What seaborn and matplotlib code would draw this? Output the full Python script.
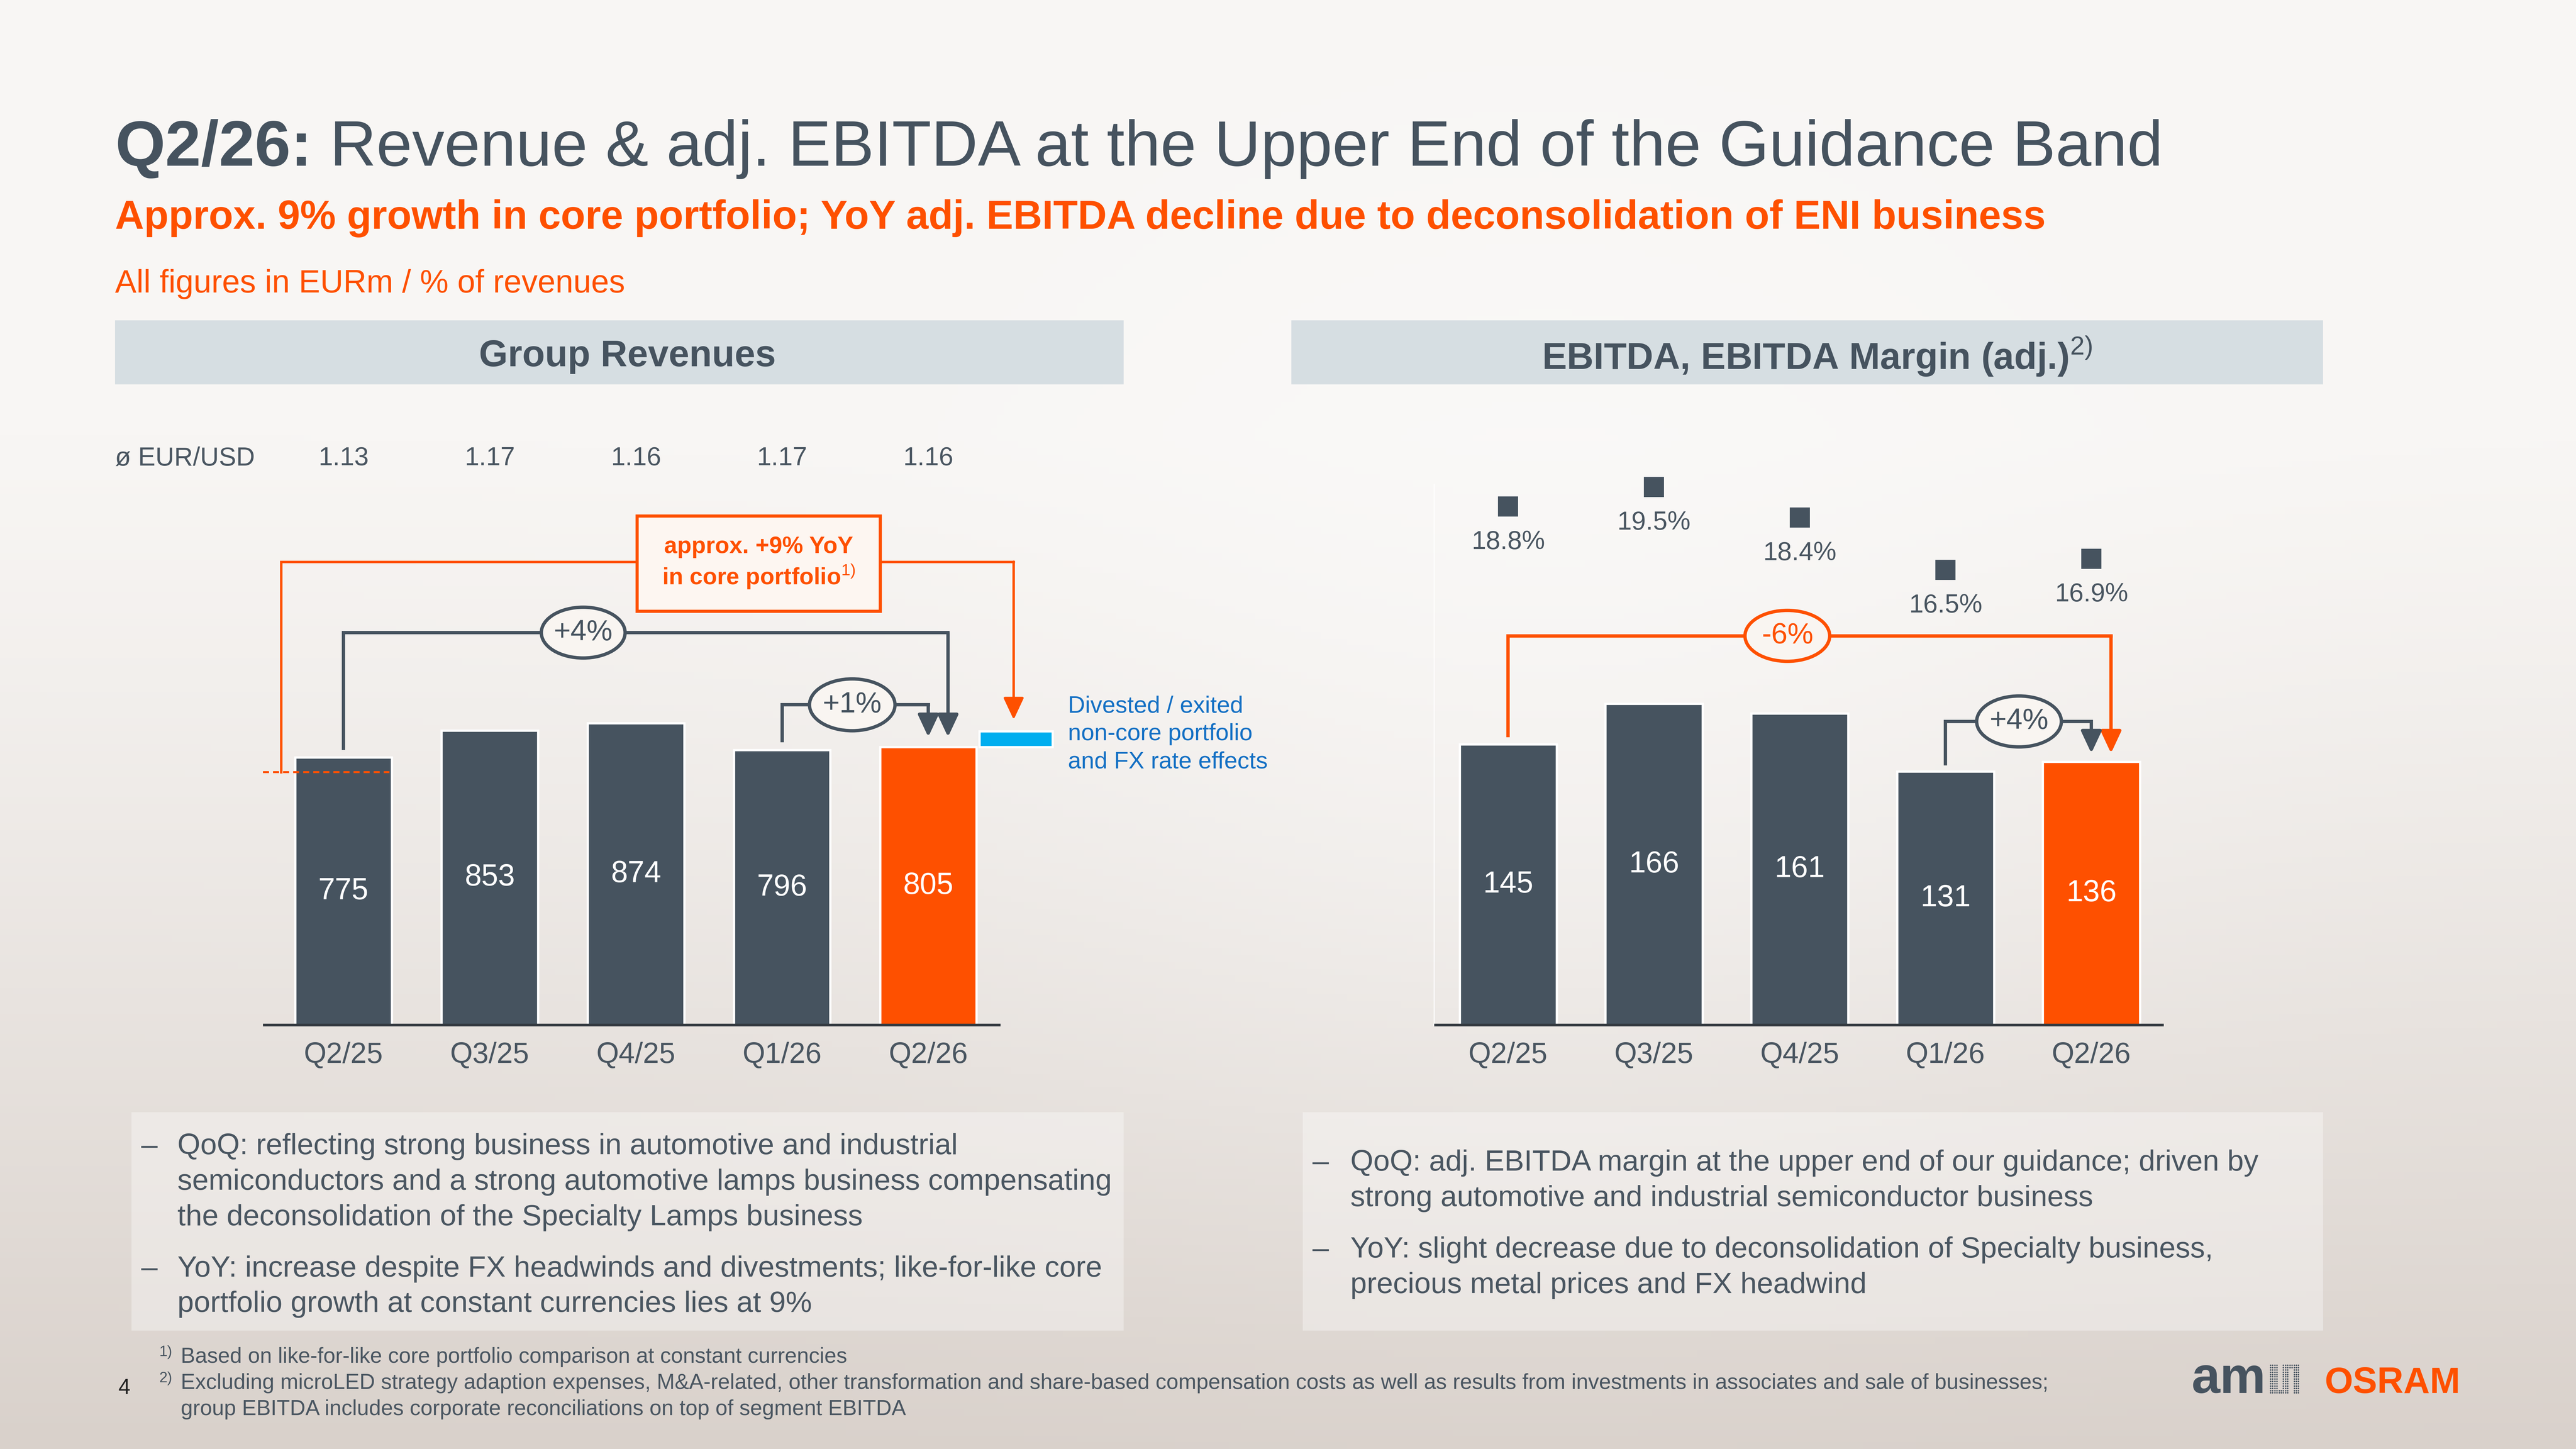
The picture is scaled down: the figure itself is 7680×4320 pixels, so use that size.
import numpy as np
import pandas as pd
import seaborn as sns
from matplotlib import pyplot as plt
from matplotlib.patches import Rectangle, Ellipse
import matplotlib.transforms as mtransforms

# ---- data ----
quarters = ["Q2/25", "Q3/25", "Q4/25", "Q1/26", "Q2/26"]
revenues = [775, 853, 874, 796, 805]
ebitda = [145, 166, 161, 131, 136]
margins = [18.8, 19.5, 18.4, 16.5, 16.9]
eur_usd = ["1.13", "1.17", "1.16", "1.17", "1.16"]
divested = 46        # divested / exited non-core portfolio and FX (blue block)
core_base = 732      # dashed orange reference level on Q2/25

left_bullets = [
    ["QoQ: reflecting strong business in automotive and industrial",
     "semiconductors and a strong automotive lamps business compensating",
     "the deconsolidation of the Specialty Lamps business"],
    ["YoY: increase despite FX headwinds and divestments; like-for-like core",
     "portfolio growth at constant currencies lies at 9%"],
]
right_bullets = [
    ["QoQ: adj. EBITDA margin at the upper end of our guidance; driven by",
     "strong automotive and industrial semiconductor business"],
    ["YoY: slight decrease due to deconsolidation of Specialty business,",
     "precious metal prices and FX headwind"],
]
footnotes = [
    ("1)", "Based on like-for-like core portfolio comparison at constant currencies"),
    ("2)", "Excluding microLED strategy adaption expenses, M&A-related, other transformation and share-based compensation costs as well as results from investments in associates and sale of businesses;"),
    ("", "group EBITDA includes corporate reconciliations on top of segment EBITDA"),
]

GRAY = "#46535f"
TXT = "#4a5661"
ORANGE = "#fe5000"
BLUE_BAR = "#00aeef"
BLUE_TXT = "#1470c4"
HEAD = "#d6dee2"
BUBBLE = "#f9f5f1"

sns.set_theme(style="white")
plt.rcParams['font.family'] = ['Liberation Sans', 'DejaVu Sans']
plt.rcParams['mathtext.fontset'] = 'custom'
plt.rcParams['mathtext.rm'] = 'Liberation Sans'
plt.rcParams['mathtext.bf'] = 'Liberation Sans:bold'

W, H = 1568, 882
fig = plt.figure(figsize=(16, 9), dpi=480)


def rect(x0, y0, x1, y1):
    return [x0 / W, 1 - y1 / H, (x1 - x0) / W, (y1 - y0) / H]


# background gradient, all layout text lives here (pixel coords of a 1568x882 slide)
bg = fig.add_axes([0, 0, 1, 1])
yy, xx = np.mgrid[0:1:220j, 0:1:390j]
top = np.array([248, 246, 244]) / 255
bot = np.array([217, 209, 203]) / 255
t = np.clip((yy - 0.3) / 0.7, 0, 1) ** 1.2
img = top + (bot - top) * t[..., None]
glow = np.exp(-(((xx - 0.6) / 0.22) ** 2 + ((yy - 0.45) / 0.35) ** 2))
img = img + (1 - img) * 0.35 * glow[..., None]
bg.imshow(img, extent=[0, W, H, 0], aspect='auto', zorder=0)
bg.set_xlim(0, W)
bg.set_ylim(H, 0)
bg.axis('off')

# title lines
t1 = bg.text(70, 109, "Q2/26:", fontsize=28.8, fontweight='bold', color=GRAY, va='bottom')
bg.annotate(" Revenue & adj. EBITDA at the Upper End of the Guidance Band", xy=(1, 0),
            xycoords=t1, fontsize=28.8, color=GRAY, va='bottom', ha='left')
bg.text(70, 133, "Approx. 9% growth in core portfolio; YoY adj. EBITDA decline due to deconsolidation of ENI business",
        fontsize=17.95, fontweight='bold', color=ORANGE, va='center')
bg.text(70, 173, "All figures in EURm / % of revenues", fontsize=14.35, color=ORANGE, va='center')

# section headers
bg.add_patch(Rectangle((70, 195), 614, 39, facecolor=HEAD, edgecolor='none'))
bg.add_patch(Rectangle((786, 195), 628, 39, facecolor=HEAD, edgecolor='none'))
bg.text(382, 217, "Group Revenues", fontsize=16.6, fontweight='bold', color=GRAY, ha='center', va='center')
bg.text(1106, 217, r"EBITDA, EBITDA Margin (adj.)$^{2)}$", fontsize=16.6, fontweight='bold',
        color=GRAY, ha='center', va='center')

# commentary boxes
bg.add_patch(Rectangle((80, 677), 604, 133, facecolor='white', alpha=0.35, edgecolor='none'))
bg.add_patch(Rectangle((793, 677), 621, 133, facecolor='white', alpha=0.35, edgecolor='none'))


def bullets(paras, x_dash, x_text, y0):
    y = y0
    for para in paras:
        bg.text(x_dash, y, "–", fontsize=13.2, color=TXT, va='center')
        for line in para:
            bg.text(x_text, y, line, fontsize=13.2, color=TXT, va='center')
            y += 21.6
        y += 9.6


bullets(left_bullets, 86, 108, 698)
bullets(right_bullets, 799, 822, 708)

# footnotes and page number
for k, (sup, note) in enumerate(footnotes):
    y = 826 + 16 * k
    if sup:
        bg.text(97, y - 3, sup, fontsize=6.6, color=TXT, va='center')
    bg.text(110, y, note, fontsize=9.65, color=TXT, va='center')
bg.text(72, 845, "4", fontsize=9.6, color='#222222', va='center')

# logo
bg.text(1334, 848, "am", fontsize=23, fontweight='bold', color=GRAY, va='baseline')
dx, dy = [], []
for c in range(14):
    for r in range(13):
        full = c <= 3 or 6 <= c <= 8 or c >= 11
        if full or (4 <= c <= 5 and r >= 11) or (9 <= c <= 10 and r <= 1):
            dx.append(1382 + c * 1.31)
            dy.append(831 + r * 1.4)
bg.scatter(dx, dy, s=0.45, color=GRAY, linewidths=0)
bg.text(1415, 848, "OSRAM", fontsize=16.3, fontweight='bold', color=ORANGE, va='baseline')


def bracket(ax, x0, y0, x1, level, tip, color, label, lx, ew, eh, lw=1.5, fs=13):
    ax.plot([x0, x0, x1], [y0, level, level], color=color, lw=lw, solid_capstyle='projecting',
            solid_joinstyle='miter', zorder=3)
    ax.annotate("", xy=(x1, tip), xytext=(x1, level),
                arrowprops=dict(arrowstyle="-|>,head_length=0.6,head_width=0.28", color=color, lw=lw,
                                shrinkA=0, shrinkB=0, mutation_scale=14), zorder=3)
    ax.add_patch(Ellipse((lx, level), ew, eh, facecolor=BUBBLE, edgecolor=color, lw=lw, zorder=4))
    ax.text(lx, level, label, ha='center', va='center', color=color, fontsize=fs, zorder=5)


def style_axis(ax):
    ax.set_facecolor('none')
    ax.set_xlabel('')
    ax.set_ylabel('')
    ax.set_yticks([])
    for s in ax.spines.values():
        s.set_visible(False)
    ax.tick_params(axis='x', length=0, pad=7.5, labelsize=13, labelcolor=TXT)
    ax.grid(False)


bar_colors = [GRAY] * 4 + [ORANGE]

# ---- Group revenues ----
axL = fig.add_axes(rect(160, 290, 660, 624))
df_rev = pd.DataFrame({"quarter": quarters, "revenue": revenues})
sns.barplot(data=df_rev, x="quarter", y="revenue", hue="quarter", palette=bar_colors,
            legend=False, width=0.66, saturation=1, ax=axL)
for cont in axL.containers:
    axL.bar_label(cont, label_type='center', color='white', fontsize=13.5)
axL.bar(4.6, divested, bottom=revenues[-1], width=0.5, color=BLUE_BAR)
axL.set_xlim(-0.551, 5.067)
axL.set_ylim(0, 1588)
style_axis(axL)
axL.hlines(0, -0.551, 4.494, color='#33393f', lw=1.2, zorder=5, clip_on=False)

trans = mtransforms.blended_transform_factory(axL.transData, fig.transFigure)
for i, fx in enumerate(eur_usd):
    axL.text(i, 1 - 279 / H, fx, transform=trans, ha='center', va='center', fontsize=11.6, color=TXT)
bg.text(70, 279, "ø EUR/USD", fontsize=11.6, color=TXT, va='center')

bracket(axL, 0, revenues[0] + 26, 4.135, 1136, revenues[-1] + 29, GRAY, "+4%", 1.64, 0.573, 147)
bracket(axL, 3, revenues[3] + 27, 4.0, 927, revenues[-1] + 29, GRAY, "+1%", 3.48, 0.585, 150)

# core portfolio bracket
axL.plot([-0.427, -0.427, 4.584], [core_base, 1341, 1341], color=ORANGE, lw=1.1,
         solid_joinstyle='miter', solid_capstyle='projecting', zorder=3)
axL.annotate("", xy=(4.584, revenues[-1] + divested + 33), xytext=(4.584, 1341),
             arrowprops=dict(arrowstyle="-|>,head_length=0.6,head_width=0.28", color=ORANGE, lw=1.1,
                             shrinkA=0, shrinkB=0, mutation_scale=14), zorder=3)
axL.hlines(core_base, -0.551, 0.315, color=ORANGE, lw=0.9, linestyles=(0, (3, 2)), zorder=4)
axL.add_patch(Rectangle((2.84 - 0.8315, 1198), 1.663, 276, facecolor='#fdf6f1', edgecolor=ORANGE,
                        lw=1.4, zorder=4))
axL.text(2.84, 1384, "approx. +9% YoY", ha='center', va='center', color=ORANGE, fontsize=10.5,
         fontweight='bold', zorder=5)
axL.text(2.84, 1298, r"in core portfolio$^{1)}$", ha='center', va='center', color=ORANGE,
         fontsize=10.5, fontweight='bold', zorder=5)
bg.text(650, 447, "Divested / exited\nnon-core portfolio\nand FX rate effects", fontsize=10.6,
        color=BLUE_TXT, va='center', linespacing=1.33)

# ---- EBITDA and margin ----
axR = fig.add_axes(rect(873, 280, 1317, 624))
df_eb = pd.DataFrame({"quarter": quarters, "ebitda": ebitda, "margin": margins})
sns.barplot(data=df_eb, x="quarter", y="ebitda", hue="quarter", palette=bar_colors,
            legend=False, width=0.665, saturation=1, ax=axR)
for cont in axR.containers:
    axR.bar_label(cont, label_type='center', color='white', fontsize=13.5)
axR.set_xlim(-0.507, 4.496)
axR.set_ylim(0, 291.8)
style_axis(axR)
axR.spines['left'].set_visible(True)
axR.spines['left'].set_color('white')
axR.spines['left'].set_alpha(0.7)
axR.spines['left'].set_linewidth(0.6)
axR.spines['left'].set_bounds(0, 279)
axR.hlines(0, -0.507, 4.496, color='#33393f', lw=1.2, zorder=5, clip_on=False)

bracket(axR, 0, ebitda[0] + 4.5, 4.135, 201, ebitda[-1] + 4.4, ORANGE, "-6%", 1.915, 0.581, 26.3)
bracket(axR, 3, ebitda[3] + 4, 4.0, 156.8, ebitda[-1] + 4.4, GRAY, "+4%", 3.504, 0.581, 26.3)

ax2 = axR.twinx()
sns.scatterplot(data=df_eb, x="quarter", y="margin", marker="s", s=80, color=GRAY,
                linewidth=0, ax=ax2)
ax2.set_ylim(0, 20.48)
style_axis(ax2)
for i, m in enumerate(margins):
    ax2.annotate(f"{m}%", xy=(i, m), xytext=(0, -16), textcoords='offset points',
                 ha='center', va='center', fontsize=11.6, color=TXT)

fig.savefig("out.png", dpi=480)
